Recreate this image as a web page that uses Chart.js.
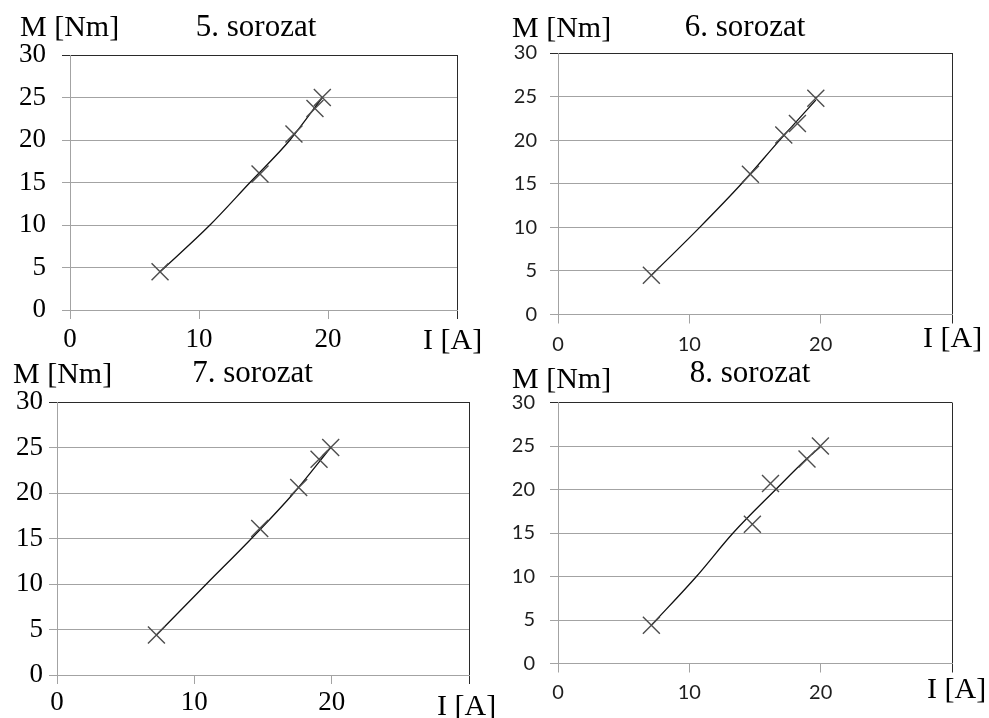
<!DOCTYPE html>
<html><head><meta charset="utf-8">
<script src="https://cdn.jsdelivr.net/npm/chart.js@4/dist/chart.umd.min.js"></script>
<style>
html,body{margin:0;padding:0;background:#fff;}
body{width:989px;height:718px;position:relative;overflow:hidden;}
.p{position:absolute;}
</style></head><body>
<div class="p" style="left:0px;top:0px;width:494px;height:355px"><canvas id="c0"></canvas></div>
<div class="p" style="left:494px;top:0px;width:495px;height:355px"><canvas id="c1"></canvas></div>
<div class="p" style="left:0px;top:355px;width:510px;height:363px"><canvas id="c2"></canvas></div>
<div class="p" style="left:494px;top:355px;width:495px;height:363px"><canvas id="c3"></canvas></div>
<script>
// ---- data ----
const seriesNames = ['5. sorozat', '6. sorozat', '7. sorozat', '8. sorozat'];
const yAxisLabel = 'M [Nm]';
const xAxisLabel = 'I [A]';
const xTickValues = [0, 10, 20, 30];
const yTickValues = [0, 5, 10, 15, 20, 25, 30];

const I5 = [6.98, 14.73, 17.36, 18.99, 19.56];
const M5 = [4.5, 16.0, 20.7, 23.7, 25.0];
const trendI5 = [6.98, 10.85, 13.95, 17.05, 19.56];
const trendM5 = [4.5, 10, 15, 20, 25.0];

const I6 = [7.11, 14.65, 17.19, 18.23, 19.63];
const M6 = [4.5, 16.1, 20.6, 21.9, 24.8];
const trendI6 = [7.11, 10.79, 13.97, 16.88, 19.63];
const trendM6 = [4.5, 10, 15, 20, 24.6];

const I7 = [7.24, 14.76, 17.6, 19.08, 19.93];
const M7 = [4.4, 16.1, 20.6, 23.7, 25.0];
const trendI7 = [7.24, 10.88, 14.16, 17.24, 19.93];
const trendM7 = [4.4, 10, 15, 20, 25.0];

const I8 = [7.11, 14.8, 16.18, 18.96, 19.98];
const M8 = [4.4, 16.0, 20.7, 23.5, 25.0];
const trendI8 = [7.11, 10.54, 13.33, 16.58, 18.92, 19.98];
const trendM8 = [4.4, 10, 15, 20, 23.5, 24.9];

const measuredI = [I5, I6, I7, I8];
const measuredM = [M5, M6, M7, M8];
const trendI = [trendI5, trendI6, trendI7, trendI8];
const trendM = [trendM5, trendM6, trendM7, trendM8];

// ---- layout / style ----
const SERIF = '"Liberation Serif", "Times New Roman", serif';
const SANS = 'Lato, "Open Sans", sans-serif';
const serifTicks = {family: SERIF, size: 27, lineHeight: 1};
const sansTicks = {family: SANS, size: 20, lineHeight: 1};
const GRID = '#a3a3a3';
const FRAME = '#2a2a2a';

const panels = [
  {area: {l: 70, t: 55, r: 457, b: 310}, W: 494, H: 355, tf: serifTicks, tc: '#000', yPad: 16, xPad: 7.5,
   yl: [20, 36], ti: [256, 36], xl: [423, 349]},
  {area: {l: 64, t: 53, r: 458, b: 314.5}, W: 495, H: 355, tf: sansTicks, tc: '#1e1e1e', yPad: 13, xPad: 11.5,
   yl: [18, 37], ti: [251, 36], xl: [429, 347]},
  {area: {l: 57, t: 47, r: 469, b: 320}, W: 510, H: 363, tf: serifTicks, tc: '#000', yPad: 6, xPad: 5.5,
   yl: [13, 28], ti: [252.5, 27], xl: [437, 360]},
  {area: {l: 64, t: 47.5, r: 458, b: 308.5}, W: 495, H: 363, tf: sansTicks, tc: '#1e1e1e', yPad: 15, xPad: 10.5,
   yl: [18, 33], ti: [256, 27], xl: [433, 343]}
];

const textPlugin = {
  id: 'panelTexts',
  afterDraw(chart, args, opts) {
    const ctx = chart.ctx;
    ctx.save();
    ctx.fillStyle = '#000';
    ctx.textBaseline = 'alphabetic';
    for (const t of opts.items) {
      ctx.font = t.font;
      ctx.textAlign = t.align;
      ctx.fillText(t.text, t.x, t.y);
    }
    ctx.restore();
  }
};

panels.forEach((p, k) => {
  const pts = measuredI[k].map((x, i) => ({x: x, y: measuredM[k][i]}));
  const trend = trendI[k].map((x, i) => ({x: x, y: trendM[k][i]}));
  new Chart(document.getElementById('c' + k), {
    type: 'scatter',
    data: {
      datasets: [
        {label: seriesNames[k] + ' trend', data: trend, showLine: true, borderColor: '#111', borderWidth: 1.3,
         pointRadius: 0, cubicInterpolationMode: 'monotone', fill: false, order: 2},
        {label: seriesNames[k], data: pts, showLine: false, pointStyle: 'crossRot', pointRadius: 12,
         pointBorderColor: '#4d4d4d', pointBorderWidth: 1.4, pointBackgroundColor: 'transparent', order: 1}
      ]
    },
    options: {
      responsive: true, maintainAspectRatio: false, animation: false,
      devicePixelRatio: 1,
      layout: {padding: {left: 0, top: p.area.t, right: p.W - p.area.r, bottom: 0}},
      plugins: {
        legend: {display: false}, title: {display: false}, tooltip: {enabled: false},
        panelTexts: {items: [
          {text: yAxisLabel, x: p.yl[0], y: p.yl[1], align: 'left', font: '30px ' + SERIF},
          {text: seriesNames[k], x: p.ti[0], y: p.ti[1], align: 'center', font: '31px ' + SERIF},
          {text: xAxisLabel, x: p.xl[0], y: p.xl[1], align: 'left', font: '30px ' + SERIF}
        ]}
      },
      scales: {
        x: {
          type: 'linear', position: 'bottom', min: 0, max: 30,
          afterFit: s => { s.height = p.H - p.area.b; },
          afterBuildTicks: s => { s.ticks = xTickValues.map(v => ({value: v})); },
          ticks: {stepSize: 10, font: p.tf, color: p.tc, padding: p.xPad, maxRotation: 0,
                  callback: v => (v === 30 ? '' : String(v))},
          grid: {drawOnChartArea: true, drawTicks: true, tickLength: 9, lineWidth: 1,
                 color: c => (c.tick && c.tick.value === 30 ? FRAME : 'rgba(0,0,0,0)'),
                 tickColor: c => (c.tick && c.tick.value === 30 ? FRAME : GRID)},
          border: {display: true, color: GRID, width: 1}
        },
        y: {
          type: 'linear', position: 'left', min: 0, max: 30,
          afterFit: s => { s.width = p.area.l; },
          afterBuildTicks: s => { s.ticks = yTickValues.map(v => ({value: v})); },
          ticks: {stepSize: 5, font: p.tf, color: p.tc, padding: p.yPad},
          grid: {drawOnChartArea: true, drawTicks: true, tickLength: 8, lineWidth: 1,
                 color: c => (c.tick && c.tick.value === 30 ? FRAME : GRID),
                 tickColor: c => (c.tick && c.tick.value === 30 ? FRAME : GRID)},
          border: {display: true, color: GRID, width: 1}
        }
      }
    },
    plugins: [textPlugin]
  });
});
</script>
</body></html>
